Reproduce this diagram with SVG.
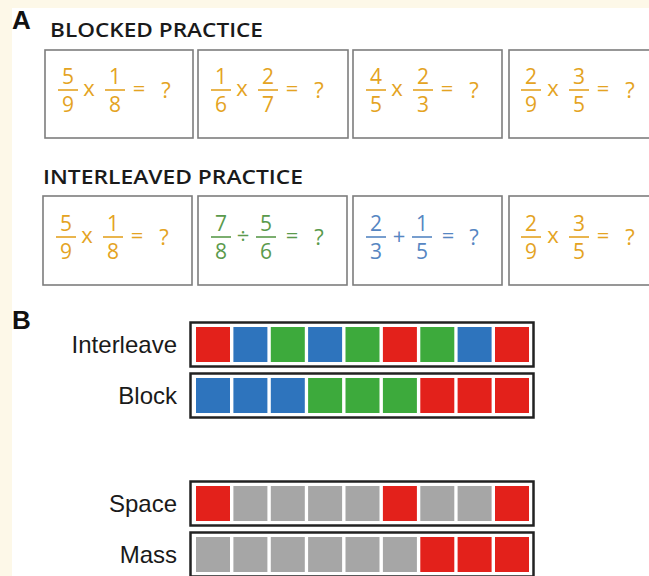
<svg xmlns="http://www.w3.org/2000/svg" width="649" height="576" viewBox="0 0 649 576">
  <style>
    .panel { font-family: "Liberation Sans", Arial, sans-serif; font-weight: bold; font-size: 26px; fill: #111; }
    .head { font-family: "Open Sans", "Liberation Sans", sans-serif; font-weight: 600; font-size: 19px; fill: #1a1a1a; }
    .card { fill: #fff; stroke: #7d7d7d; stroke-width: 1.6; }
    .m { font-family: "Open Sans", "DejaVu Sans", sans-serif; font-weight: 400; font-size: 21px; text-anchor: middle; }
    .op { font-size: 22px; }
    .q { font-size: 22px; }
    .o { fill: #e4a322; } .ol { stroke: #e4a322; }
    .g { fill: #5a9a4c; } .gl { stroke: #5a9a4c; }
    .b { fill: #5686c2; } .bl { stroke: #5686c2; }
    .bar { stroke-width: 1.6; }
    .lbl { font-family: "Liberation Sans", Arial, sans-serif; font-size: 24px; fill: #1a1a1a; text-anchor: end; }
    .strip { fill: #fff; stroke: #222; stroke-width: 2.5; }
    .R { fill: #e3211b; } .B { fill: #2e74bd; } .G { fill: #3daa3c; } .X { fill: #a6a6a6; }
  </style>

  <!-- page background with cream margins -->
  <rect x="0" y="0" width="649" height="576" fill="#fff"/>
  <rect x="0" y="0" width="649" height="8" fill="#fdf8e8"/>
  <rect x="0" y="0" width="12" height="576" fill="#fdf8e8"/>

  <!-- Panel A -->
  <text class="panel" x="12" y="29">A</text>
  <text class="head" x="50" y="37" textLength="213" lengthAdjust="spacingAndGlyphs">BLOCKED PRACTICE</text>
  <text class="head" x="43" y="184" textLength="260" lengthAdjust="spacingAndGlyphs">INTERLEAVED PRACTICE</text>

  <!-- blocked row -->
  <g id="blocked-1">
    <rect class="card" x="45" y="50" width="148" height="88"/>
    <text class="m o" x="68" y="84">5</text><line class="ol bar" x1="58" y1="90" x2="78" y2="90"/><text class="m o" x="68" y="112">9</text>
    <text class="m o op" x="89" y="96">x</text>
    <text class="m o" x="115" y="84">1</text><line class="ol bar" x1="105" y1="90" x2="125" y2="90"/><text class="m o" x="115" y="112">8</text>
    <text class="m o op" x="139" y="96">=</text><text class="m o q" x="166" y="98">?</text>
  </g>
  <g id="blocked-2">
    <rect class="card" x="198" y="50" width="150" height="88"/>
    <text class="m o" x="221" y="84">1</text><line class="ol bar" x1="211" y1="90" x2="231" y2="90"/><text class="m o" x="221" y="112">6</text>
    <text class="m o op" x="242" y="96">x</text>
    <text class="m o" x="268" y="84">2</text><line class="ol bar" x1="258" y1="90" x2="278" y2="90"/><text class="m o" x="268" y="112">7</text>
    <text class="m o op" x="292" y="96">=</text><text class="m o q" x="319" y="98">?</text>
  </g>
  <g id="blocked-3">
    <rect class="card" x="353" y="50" width="149" height="88"/>
    <text class="m o" x="376" y="84">4</text><line class="ol bar" x1="366" y1="90" x2="386" y2="90"/><text class="m o" x="376" y="112">5</text>
    <text class="m o op" x="397" y="96">x</text>
    <text class="m o" x="423" y="84">2</text><line class="ol bar" x1="413" y1="90" x2="433" y2="90"/><text class="m o" x="423" y="112">3</text>
    <text class="m o op" x="447" y="96">=</text><text class="m o q" x="474" y="98">?</text>
  </g>
  <g id="blocked-4">
    <rect class="card" x="509" y="50" width="150" height="88"/>
    <text class="m o" x="531" y="84">2</text><line class="ol bar" x1="521" y1="90" x2="541" y2="90"/><text class="m o" x="531" y="112">9</text>
    <text class="m o op" x="553" y="96">x</text>
    <text class="m o" x="579" y="84">3</text><line class="ol bar" x1="569" y1="90" x2="589" y2="90"/><text class="m o" x="579" y="112">5</text>
    <text class="m o op" x="603" y="96">=</text><text class="m o q" x="630" y="98">?</text>
  </g>

  <!-- interleaved row -->
  <g id="interleaved-1">
    <rect class="card" x="43" y="196" width="149" height="89"/>
    <text class="m o" x="66" y="231">5</text><line class="ol bar" x1="56" y1="237" x2="76" y2="237"/><text class="m o" x="66" y="259">9</text>
    <text class="m o op" x="87" y="243">x</text>
    <text class="m o" x="113" y="231">1</text><line class="ol bar" x1="103" y1="237" x2="123" y2="237"/><text class="m o" x="113" y="259">8</text>
    <text class="m o op" x="137" y="243">=</text><text class="m o q" x="164" y="245">?</text>
  </g>
  <g id="interleaved-2">
    <rect class="card" x="198" y="196" width="149" height="89"/>
    <text class="m g" x="221" y="231">7</text><line class="gl bar" x1="211" y1="237" x2="231" y2="237"/><text class="m g" x="221" y="259">8</text>
    <text class="m g op" x="243" y="244">÷</text>
    <text class="m g" x="266" y="231">5</text><line class="gl bar" x1="256" y1="237" x2="276" y2="237"/><text class="m g" x="266" y="259">6</text>
    <text class="m g op" x="292" y="243">=</text><text class="m g q" x="319" y="245">?</text>
  </g>
  <g id="interleaved-3">
    <rect class="card" x="353" y="196" width="149" height="89"/>
    <text class="m b" x="376" y="231">2</text><line class="bl bar" x1="366" y1="237" x2="386" y2="237"/><text class="m b" x="376" y="259">3</text>
    <text class="m b op" x="399" y="244">+</text>
    <text class="m b" x="422" y="231">1</text><line class="bl bar" x1="412" y1="237" x2="432" y2="237"/><text class="m b" x="422" y="259">5</text>
    <text class="m b op" x="448" y="243">=</text><text class="m b q" x="474" y="245">?</text>
  </g>
  <g id="interleaved-4">
    <rect class="card" x="509" y="196" width="150" height="89"/>
    <text class="m o" x="531" y="231">2</text><line class="ol bar" x1="521" y1="237" x2="541" y2="237"/><text class="m o" x="531" y="259">9</text>
    <text class="m o op" x="553" y="243">x</text>
    <text class="m o" x="579" y="231">3</text><line class="ol bar" x1="569" y1="237" x2="589" y2="237"/><text class="m o" x="579" y="259">5</text>
    <text class="m o op" x="603" y="243">=</text><text class="m o q" x="630" y="245">?</text>
  </g>

  <!-- Panel B -->
  <text class="panel" x="12" y="329">B</text>

  <g id="interleave">
    <text class="lbl" x="177" y="353">Interleave</text>
    <rect class="strip" x="190.5" y="322.5" width="343" height="44"/>
    <rect class="R" x="196" y="327" width="34" height="35"/>
    <rect class="B" x="233.4" y="327" width="34" height="35"/>
    <rect class="G" x="270.8" y="327" width="34" height="35"/>
    <rect class="B" x="308.1" y="327" width="34" height="35"/>
    <rect class="G" x="345.5" y="327" width="34" height="35"/>
    <rect class="R" x="382.9" y="327" width="34" height="35"/>
    <rect class="G" x="420.3" y="327" width="34" height="35"/>
    <rect class="B" x="457.6" y="327" width="34" height="35"/>
    <rect class="R" x="495" y="327" width="34" height="35"/>
  </g>

  <g id="block">
    <text class="lbl" x="177" y="404">Block</text>
    <rect class="strip" x="190.5" y="373.5" width="343" height="44"/>
    <rect class="B" x="196" y="378" width="34" height="35"/>
    <rect class="B" x="233.4" y="378" width="34" height="35"/>
    <rect class="B" x="270.8" y="378" width="34" height="35"/>
    <rect class="G" x="308.1" y="378" width="34" height="35"/>
    <rect class="G" x="345.5" y="378" width="34" height="35"/>
    <rect class="G" x="382.9" y="378" width="34" height="35"/>
    <rect class="R" x="420.3" y="378" width="34" height="35"/>
    <rect class="R" x="457.6" y="378" width="34" height="35"/>
    <rect class="R" x="495" y="378" width="34" height="35"/>
  </g>

  <g id="space">
    <text class="lbl" x="177" y="512">Space</text>
    <rect class="strip" x="190.5" y="481.5" width="343" height="44"/>
    <rect class="R" x="196" y="486" width="34" height="35"/>
    <rect class="X" x="233.4" y="486" width="34" height="35"/>
    <rect class="X" x="270.8" y="486" width="34" height="35"/>
    <rect class="X" x="308.1" y="486" width="34" height="35"/>
    <rect class="X" x="345.5" y="486" width="34" height="35"/>
    <rect class="R" x="382.9" y="486" width="34" height="35"/>
    <rect class="X" x="420.3" y="486" width="34" height="35"/>
    <rect class="X" x="457.6" y="486" width="34" height="35"/>
    <rect class="R" x="495" y="486" width="34" height="35"/>
  </g>

  <g id="mass">
    <text class="lbl" x="177" y="563">Mass</text>
    <rect class="strip" x="190.5" y="532.5" width="343" height="44"/>
    <rect class="X" x="196" y="537" width="34" height="35"/>
    <rect class="X" x="233.4" y="537" width="34" height="35"/>
    <rect class="X" x="270.8" y="537" width="34" height="35"/>
    <rect class="X" x="308.1" y="537" width="34" height="35"/>
    <rect class="X" x="345.5" y="537" width="34" height="35"/>
    <rect class="X" x="382.9" y="537" width="34" height="35"/>
    <rect class="R" x="420.3" y="537" width="34" height="35"/>
    <rect class="R" x="457.6" y="537" width="34" height="35"/>
    <rect class="R" x="495" y="537" width="34" height="35"/>
  </g>
</svg>
